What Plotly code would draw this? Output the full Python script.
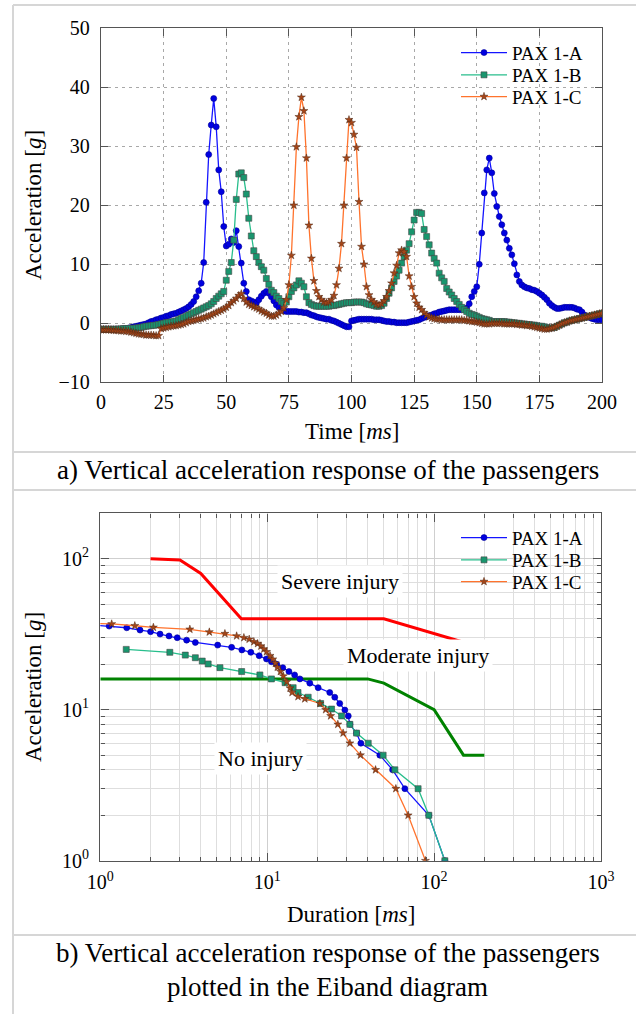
import plotly.graph_objects as go
import math

# ---------------- data: time histories (1 ms sampling) ----------------
TIME_MS = list(range(0, 201))

PAX_1A = [
    -1.0, -1.0, -1.0, -1.0, -1.0, -1.0, -1.0, -1.0, -1.0, -0.9,
    -0.9, -0.8, -0.7, -0.6, -0.5, -0.4, -0.3, -0.2, -0.1, 0.1,
    0.3, 0.4, 0.6, 0.7, 0.9, 1.0, 1.2, 1.3, 1.5, 1.6,
    1.7, 1.9, 2.1, 2.3, 2.5, 2.8, 3.2, 3.7, 4.5, 5.5,
    6.8, 10.3, 20.5, 28.6, 33.6, 38.1, 33.3, 26.0, 22.3, 16.4,
    13.1, 13.4, 14.3, 13.7, 15.7, 13.0, 10.2, 6.8, 5.4, 4.0,
    3.8, 3.6, 3.4, 4.0, 4.6, 5.1, 5.4, 5.1, 4.5, 3.8,
    3.1, 2.7, 2.3, 2.1, 2.0, 2.0, 2.0, 2.0, 2.0, 1.9,
    1.9, 1.8, 1.8, 1.6, 1.4, 1.3, 1.1, 1.0, 0.9, 0.8,
    0.7, 0.7, 0.5, 0.4, 0.2, 0.0, -0.2, -0.4, -0.6, -0.6,
    0.4, 0.5, 0.6, 0.7, 0.7, 0.7, 0.7, 0.7, 0.7, 0.6,
    0.6, 0.6, 0.5, 0.4, 0.3, 0.3, 0.2, 0.2, 0.1, 0.1,
    0.1, 0.1, 0.1, 0.2, 0.3, 0.4, 0.5, 0.6, 0.8, 1.0,
    1.1, 1.3, 1.4, 1.6, 1.7, 1.9, 2.0, 2.1, 2.2, 2.3,
    2.3, 2.3, 2.3, 2.3, 2.3, 2.4, 2.6, 3.3, 4.5, 5.4,
    6.2, 10.0, 15.3, 22.1, 26.0, 28.0, 25.5, 22.0, 19.8, 18.1,
    16.7, 15.3, 14.1, 12.7, 11.6, 10.1, 8.2, 7.1, 6.5, 6.2,
    6.0, 5.9, 5.7, 5.6, 5.4, 5.1, 4.8, 4.4, 4.0, 3.4,
    3.0, 2.7, 2.5, 2.5, 2.6, 2.7, 2.7, 2.7, 2.7, 2.6,
    2.4, 2.3, 1.9, 1.4, 1.2, 1.0, 0.8, 0.7, 0.6, 0.6,
    0.6,
]

PAX_1B = [
    -1.0, -1.0, -1.0, -1.0, -1.0, -1.0, -1.0, -0.95, -0.95, -0.9,
    -0.9, -0.9, -0.85, -0.85, -0.8, -0.75, -0.7, -0.6, -0.5, -0.45,
    -0.4, -0.35, -0.3, -0.2, -0.1, 0.0, 0.1, 0.15, 0.2, 0.3,
    0.4, 0.6, 0.8, 1.0, 1.2, 1.4, 1.6, 1.8, 2.0, 2.2,
    2.4, 2.6, 2.8, 3.0, 3.3, 3.7, 4.2, 4.6, 5.0, 5.4,
    7.3, 8.8, 10.3, 14.1, 21.0, 25.3, 25.5, 24.7, 21.9, 17.8,
    14.8, 12.3, 11.3, 10.3, 9.6, 9.0, 7.6, 6.6, 5.6, 5.2,
    4.6, 4.2, 3.7, 3.4, 3.6, 4.5, 5.4, 6.0, 6.5, 7.2,
    6.8, 6.2, 4.5, 3.5, 3.2, 3.0, 2.9, 2.9, 2.9, 2.9,
    2.9, 2.9, 3.0, 3.0, 3.1, 3.2, 3.3, 3.4, 3.5, 3.5,
    3.5, 3.6, 3.6, 3.6, 3.6, 3.5, 3.3, 3.2, 3.1, 3.0,
    2.9, 2.9, 3.0, 3.4, 4.2, 5.1, 6.0, 7.1, 8.0, 9.0,
    10.2, 11.3, 12.4, 13.5, 15.5, 17.5, 18.8, 18.8, 18.6, 15.9,
    14.7, 13.3, 11.9, 11.0, 10.2, 8.5, 7.7, 7.1, 5.9, 5.3,
    4.8, 4.2, 3.7, 3.2, 2.7, 2.3, 2.0, 1.7, 1.5, 1.4,
    1.2, 1.0, 0.8, 0.7, 0.6, 0.5, 0.3, 0.3, 0.3, 0.3,
    0.3, 0.3, 0.2, 0.2, 0.1, 0.1, 0.0, 0.0, -0.1, -0.1,
    -0.2, -0.2, -0.3, -0.3, -0.4, -0.5, -0.5, -0.6, -0.7, -0.8,
    -0.8, -0.7, -0.5, -0.3, -0.1, 0.1, 0.2, 0.4, 0.5, 0.6,
    0.7, 0.8, 0.9, 1.0, 1.1, 1.2, 1.3, 1.4, 1.5, 1.6,
    1.7,
]

PAX_1C = [
    -1.1, -1.1, -1.1, -1.1, -1.15, -1.2, -1.2, -1.25, -1.3, -1.3,
    -1.35, -1.4, -1.5, -1.6, -1.7, -1.8, -1.85, -1.9, -2.0, -2.0,
    -2.0, -2.05, -2.1, -2.1, -0.9, -0.8, -0.7, -0.6, -0.5, -0.45,
    -0.4, -0.3, -0.2, -0.1, 0.1, 0.3, 0.4, 0.5, 0.6, 0.7,
    0.8, 0.9, 1.1, 1.2, 1.4, 1.6, 1.8, 2.0, 2.2, 2.4,
    2.7, 3.0, 3.5, 3.8, 4.2, 4.7, 5.0, 4.2, 3.6, 3.2,
    3.0, 2.8, 2.6, 2.4, 2.1, 1.9, 1.7, 1.4, 1.2, 1.2,
    1.4, 1.7, 2.0, 2.6, 4.0, 6.5, 11.5, 20.0, 29.9, 35.0,
    38.3, 36.0, 28.0, 16.6, 11.0, 7.2, 5.5, 4.5, 4.0, 3.6,
    3.5, 3.6, 4.0, 4.7, 6.5, 9.3, 13.5, 20.0, 28.0, 34.5,
    34.0, 32.0, 29.8, 20.6, 13.0, 10.0, 6.2, 4.8, 4.0, 3.6,
    3.2, 3.1, 3.3, 3.8, 4.5, 5.5, 6.8, 8.5, 9.8, 11.9,
    12.4, 12.1, 11.3, 8.0, 6.2, 4.5, 3.4, 2.7, 2.3, 1.8,
    1.4, 1.1, 0.9, 0.8, 0.7, 0.7, 0.6, 0.6, 0.6, 0.6,
    0.6, 0.6, 0.6, 0.6, 0.6, 0.5, 0.5, 0.4, 0.3, 0.3,
    0.2, 0.1, 0.0, -0.1, -0.1, -0.1, 0.0, 0.0, 0.0, 0.0,
    0.0, -0.1, -0.1, -0.1, -0.1, -0.1, -0.2, -0.2, -0.3, -0.3,
    -0.4, -0.4, -0.5, -0.6, -0.7, -0.8, -0.9, -1.0, -1.0, -0.9,
    -0.8, -0.7, -0.5, -0.3, -0.1, 0.1, 0.2, 0.4, 0.5, 0.6,
    0.7, 0.8, 0.9, 1.0, 1.1, 1.2, 1.3, 1.4, 1.5, 1.6,
    1.7,
]

# ---------------- data: Eiband diagram ----------------
EIB_1A_DUR = [0.8, 1.13, 1.44, 1.73, 2.0, 2.28, 2.58, 2.89, 3.29, 3.71, 5.05, 6.12, 7.05, 7.98,
              8.95, 9.9, 10.6, 11.4, 12.4, 13.5, 14.6, 15.7, 18.0, 20.2, 23.7, 25.4, 27.2,
              29.2, 30.6, 31.3, 34.3, 36.4, 47.3, 56.4, 66.8, 93.0, 116.0]
EIB_1A_ACC = [36.8, 35.8, 34.9, 33.7, 32.9, 31.7, 30.8, 30.0, 28.9, 27.9, 26.8, 25.9, 24.9, 24.0,
              22.8, 21.7, 20.8, 20.0, 19.0, 17.9, 17.0, 16.0, 15.0, 14.0, 13.0, 12.1, 11.0,
              9.95, 9.1, 8.0, 7.0, 6.0, 5.0, 4.0, 3.0, 2.0, 1.0]

EIB_1B_DUR = [1.43, 2.61, 3.23, 3.71, 4.08, 4.43, 5.21, 7.03, 9.04, 10.6, 12.8, 14.3, 15.3, 17.6,
              20.9, 24.3, 27.9, 31.3, 34.3, 40.3, 49.5, 58.2, 80.2, 93.0, 116.0]
EIB_1B_ACC = [25.1, 24.0, 23.0, 22.1, 21.0, 20.1, 19.0, 17.9, 17.0, 16.0, 15.1, 14.0, 13.0, 12.1,
              11.0, 10.1, 9.1, 8.0, 7.0, 6.0, 5.0, 4.0, 3.0, 2.0, 1.0]

EIB_1C_DUR = [0.8, 1.17, 1.61, 2.08, 3.44, 4.5, 5.58, 6.56, 7.25, 7.8, 8.32, 8.76, 9.17, 9.55, 9.91,
              10.4, 10.8, 11.2, 11.5, 12.0, 12.5, 13.1, 13.7, 14.1, 15.3, 16.8, 20.7, 22.4,
              24.0, 26.5, 28.5, 31.3, 36.2, 44.6, 59.0, 69.9, 88.8]
EIB_1C_ACC = [37.5, 37.0, 36.0, 35.1, 34.1, 32.7, 31.9, 30.8, 30.0, 29.3, 28.2, 27.4, 26.4, 25.2, 24.2,
              22.8, 21.6, 20.3, 19.1, 17.9, 16.7, 15.3, 13.9, 13.0, 12.2, 11.8, 11.0, 10.0,
              9.1, 8.0, 7.0, 6.0, 5.0, 4.0, 3.0, 2.0, 1.0]

SEVERE_DUR = [2, 3, 4, 7, 50, 150, 200]
SEVERE_ACC = [100, 98, 80, 40, 40, 28, 28]
MODERATE_DUR = [1, 40, 50, 100, 150, 200]
MODERATE_ACC = [16, 16, 15, 10, 5, 5]

SERIES_NAMES = ["PAX 1-A", "PAX 1-B", "PAX 1-C"]
TIME_TICKS = [0, 25, 50, 75, 100, 125, 150, 175, 200]
ACC_TICKS = [-10, 0, 10, 20, 30, 40, 50]
LOG_X_TICKS = [1, 10, 100, 1000]
LOG_X_TEXT = ["10<sup>0</sup>", "10<sup>1</sup>", "10<sup>2</sup>", "10<sup>3</sup>"]
LOG_Y_TICKS = [1, 10, 100]
LOG_Y_TEXT = ["10<sup>0</sup>", "10<sup>1</sup>", "10<sup>2</sup>"]
LOG_X_MINOR = [m * 10 ** d for d in range(3) for m in range(2, 10)]
LOG_Y_MINOR = [m * 10 ** d for d in range(2) for m in range(2, 10)] + [200]

# ---------------- styles ----------------
FONT = "Liberation Serif"
W, H = 636, 1014
STYLES = [
    dict(line=dict(color="rgb(20,20,255)", width=1.3),
         marker=dict(symbol="circle", size=6, color="rgb(0,0,225)",
                     line=dict(color="rgb(0,0,150)", width=0.6))),
    dict(line=dict(color="rgb(40,190,140)", width=1.3),
         marker=dict(symbol="square", size=6, color="rgb(25,150,110)",
                     line=dict(color="rgb(70,70,70)", width=0.6))),
    dict(line=dict(color="rgb(255,115,45)", width=1.3),
         marker=dict(symbol="star", size=6, color="rgb(165,70,25)",
                     line=dict(color="rgb(80,40,20)", width=0.5))),
]


def px_x(p):
    return p / W


def px_y(p):
    return 1 - p / H


fig = go.Figure()

TOP_LEGENDS = ["legend", "legend2", "legend3"]
BOT_LEGENDS = ["legend4", "legend5", "legend6"]

# top chart: time histories
for name, vals, st, lg in zip(SERIES_NAMES, [PAX_1A, PAX_1B, PAX_1C], STYLES, TOP_LEGENDS):
    fig.add_trace(go.Scatter(x=TIME_MS, y=vals, name=name, mode="lines+markers",
                             xaxis="x", yaxis="y", legend=lg, **st))

# bottom chart: Eiband boundaries then responses
fig.add_trace(go.Scatter(x=SEVERE_DUR, y=SEVERE_ACC, mode="lines", showlegend=False,
                         line=dict(color="rgb(255,0,0)", width=3), xaxis="x2", yaxis="y2"))
fig.add_trace(go.Scatter(x=MODERATE_DUR, y=MODERATE_ACC, mode="lines", showlegend=False,
                         line=dict(color="rgb(0,130,0)", width=3), xaxis="x2", yaxis="y2"))
for name, dur, acc, st, lg in zip(SERIES_NAMES, [EIB_1A_DUR, EIB_1B_DUR, EIB_1C_DUR],
                                  [EIB_1A_ACC, EIB_1B_ACC, EIB_1C_ACC], STYLES, BOT_LEGENDS):
    fig.add_trace(go.Scatter(x=dur, y=acc, name=name, mode="lines+markers",
                             xaxis="x2", yaxis="y2", legend=lg, **st))

tickfont = dict(family=FONT, size=20, color="black")
axis_common = dict(showline=True, linecolor="#555", linewidth=1.4, mirror="ticks",
                   ticks="inside", tickcolor="#555", tickwidth=1.2, zeroline=False,
                   tickfont=tickfont, automargin=False)

fig.update_layout(
    width=W, height=H, autosize=False,
    margin=dict(l=0, r=0, t=0, b=0, autoexpand=False),
    paper_bgcolor="white", plot_bgcolor="white",
    font=dict(family=FONT, color="black"),
    xaxis=dict(domain=[px_x(101), px_x(602)], anchor="y", range=[0, 200],
               tickmode="array", tickvals=TIME_TICKS, ticklen=7,
               showgrid=True, gridcolor="#a8a8a8", gridwidth=1, griddash="3px,4px",
               ticklabelstandoff=1, **axis_common),
    yaxis=dict(domain=[px_y(382.3), px_y(28.3)], anchor="x", range=[-10, 50],
               tickmode="array", tickvals=ACC_TICKS, ticklen=7,
               showgrid=True, gridcolor="#a8a8a8", gridwidth=1, griddash="3px,4px",
               ticklabelstandoff=6, **axis_common),
    xaxis2=dict(domain=[px_x(100.3), px_x(601)], anchor="y2", type="log",
                range=[0, 3], tickmode="array", tickvals=LOG_X_TICKS, ticktext=LOG_X_TEXT,
                ticklen=8, showgrid=True, gridcolor="#cfcfcf", gridwidth=1,
                minor=dict(tickmode="array", tickvals=LOG_X_MINOR, ticks="inside",
                           ticklen=4, tickcolor="#555", showgrid=True,
                           gridcolor="#dedede", gridwidth=1),
                ticklabelstandoff=3, **axis_common),
    yaxis2=dict(domain=[px_y(860.7), px_y(513.3)], anchor="x2", type="log",
                range=[0, math.log10(200)], tickmode="array", tickvals=LOG_Y_TICKS,
                ticktext=LOG_Y_TEXT, ticklen=8, showgrid=True, gridcolor="#cfcfcf",
                gridwidth=1,
                minor=dict(tickmode="array", tickvals=LOG_Y_MINOR, ticks="inside",
                           ticklen=4, tickcolor="#555", showgrid=True,
                           gridcolor="#dedede", gridwidth=1),
                ticklabelstandoff=6, **axis_common),
)

# one single-entry legend per row so that row spacing matches
legend_font = dict(family=FONT, size=19, color="black")
for lg, row_y in zip(TOP_LEGENDS + BOT_LEGENDS, [52.7, 75, 96.7, 537.7, 560, 581.7]):
    fig.update_layout({lg: dict(x=px_x(456), y=px_y(row_y), xanchor="left", yanchor="middle",
                                bgcolor="rgba(0,0,0,0)", font=legend_font,
                                itemwidth=46, borderwidth=0)})

# panel frame lines
frame_color = "#d6d6d6"
shapes = [dict(type="line", xref="paper", yref="paper", x0=px_x(13), x1=px_x(13),
               y0=0, y1=px_y(5), line=dict(color=frame_color, width=2))]
for yy in [5, 452, 490, 935]:
    shapes.append(dict(type="line", xref="paper", yref="paper", x0=px_x(13), x1=1,
                       y0=px_y(yy), y1=px_y(yy), line=dict(color=frame_color, width=2)))
fig.update_layout(shapes=shapes)

ann = []
title_font = dict(family=FONT, size=23, color="black")
ann.append(dict(text="Time [<i>ms</i>]", x=px_x(351.5), y=px_y(432)))
ann.append(dict(text="Duration [<i>ms</i>]", x=px_x(350.6), y=px_y(914)))
for a in ann:
    a.update(font=title_font)
ann.append(dict(text="Acceleration [<i>g</i>]", x=px_x(33), y=px_y(205), textangle=-90, font=title_font))
ann.append(dict(text="Acceleration [<i>g</i>]", x=px_x(33), y=px_y(687), textangle=-90, font=title_font))
cap_font = dict(family=FONT, size=27, color="black")
ann.append(dict(text="a) Vertical acceleration response of the passengers", x=px_x(328), y=px_y(470),
                font=cap_font))
ann.append(dict(text="b) Vertical acceleration response of the passengers", x=px_x(328), y=px_y(953),
                font=cap_font))
ann.append(dict(text="plotted in the Eiband diagram", x=px_x(327), y=px_y(987), font=cap_font))
zone_font = dict(family=FONT, size=22, color="black")
for txt, cx, cy in [("Severe injury", 340, 581), ("Moderate injury", 418, 655), ("No injury", 260, 758)]:
    ann.append(dict(text=txt, x=px_x(cx), y=px_y(cy), font=zone_font, bgcolor="white", borderpad=3))
for a in ann:
    a.update(xref="paper", yref="paper", showarrow=False, xanchor="center", yanchor="middle")
fig.update_layout(annotations=ann)

fig.write_html("out.html")
